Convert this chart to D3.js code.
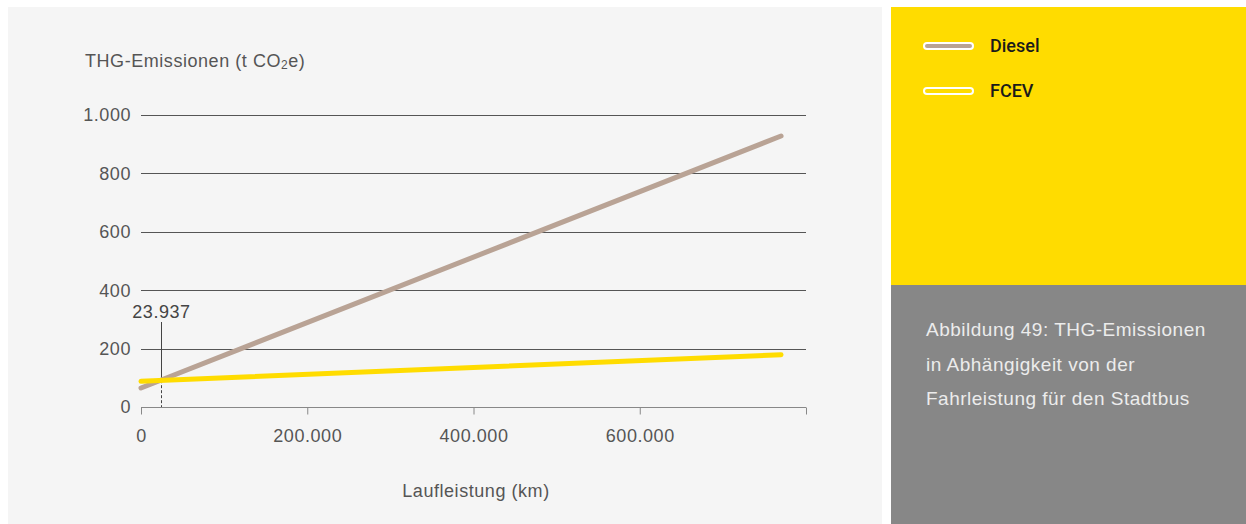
<!DOCTYPE html>
<html>
<head>
<meta charset="utf-8">
<script src="https://cdn.jsdelivr.net/npm/d3@7"></script>
<style>
  body { margin: 0; background: #fff; }
  svg { display: block; }
</style>
</head>
<body>
<div id="chart"></div>
<script>
// data
var seriesNames = ["Diesel", "FCEV"]
var seriesColors = ["#b9a395", "#ffdc00"]
var kmPoints = [0, 770000]
var dieselValues = [65, 928]
var fcevValues = [88, 179]
var yTicks = [0, 200, 400, 600, 800, 1000]
var xTicks = [0, 200000, 400000, 600000, 800000]
var breakEvenKm = 23937
var caption = ["Abbildung 49: THG-Emissionen", "in Abhängigkeit von der", "Fahrleistung für den Stadtbus"]

var svgWidth = 1246
var svgHeight = 524
var font = "'Liberation Sans', 'Helvetica Neue', Arial, sans-serif"
var fontSize = 18
var spacing = 0.55

// german number format (1.000)
var de = d3.formatLocale({decimal: ",", thousands: ".", grouping: [3], currency: ["", " €"]})
var fmt = de.format(",.0f")

var svg = d3.select("#chart")
.append("svg")
.attr("width", svgWidth)
.attr("height", svgHeight)

// background panels
svg.append("rect").attr("x", 8).attr("y", 7).attr("width", 874).attr("height", 517).attr("fill", "#f5f5f5")
svg.append("rect").attr("x", 891).attr("y", 7).attr("width", 355).attr("height", 278).attr("fill", "#ffdc00")
svg.append("rect").attr("x", 891).attr("y", 285).attr("width", 355).attr("height", 239).attr("fill", "#878787")

var x = d3.scaleLinear().domain([0, 800000]).range([141, 806])
var y = d3.scaleLinear().domain([0, 1000]).range([407, 115])

function styleText(sel) {
   return sel.attr("font-family", font)
   .attr("font-size", fontSize)
   .attr("letter-spacing", spacing)
   .attr("fill", "#555")
}

// gridlines + y labels
var grid = svg.append("g")
grid.selectAll("line")
.data(yTicks.filter(function(d){ return d > 0 }))
.enter()
.append("line")
.attr("x1", x(0))
.attr("x2", x(800000))
.attr("y1", function(d){ return Math.round(y(d)) + 0.5 })
.attr("y2", function(d){ return Math.round(y(d)) + 0.5 })
.attr("stroke", "#555")
.attr("stroke-width", 1)

grid.selectAll("text")
.data(yTicks)
.enter()
.append("text")
.attr("x", 131)
.attr("y", function(d){ return y(d) })
.attr("dy", "0.35em")
.attr("text-anchor", "end")
.call(styleText)
.text(function(d){ return fmt(d) })

// x axis
var xAxis = d3.axisBottom(x)
.tickValues(xTicks)
.tickSize(7)
.tickFormat(function(d){ return d === 800000 ? "" : fmt(d) })

var gx = svg.append("g")
.attr("transform", "translate(0," + (Math.round(y(0)) + 0.5) + ")")
.call(xAxis)
gx.select(".domain").attr("stroke", "#888").attr("d", "M" + x(0) + ",0H" + x(800000))
gx.selectAll(".tick line").attr("stroke", "#888")
gx.selectAll(".tick text")
.call(styleText)
.attr("y", 28)
.attr("dy", "0.35em")

// axis titles (CO2 with a small subscript)
var yTitle = svg.append("text")
.attr("x", 85)
.attr("y", 67)
.call(styleText)
yTitle.append("tspan").text("THG-Emissionen (t CO")
yTitle.append("tspan").attr("font-size", 12).attr("dy", 2).text("2")
yTitle.append("tspan").attr("dy", -2).text("e)")

svg.append("text")
.attr("x", 476)
.attr("y", 497)
.attr("text-anchor", "middle")
.call(styleText)
.text("Laufleistung (km)")

// series lines
var line = d3.line()
.x(function(d){ return x(d[0]) })
.y(function(d){ return y(d[1]) })

var series = [dieselValues, fcevValues].map(function(vals){
   return kmPoints.map(function(k, i){ return [k, vals[i]] })
})

// break-even marker
var dSlope = (dieselValues[1] - dieselValues[0]) / (kmPoints[1] - kmPoints[0])
var yBreak = y(dieselValues[0] + dSlope * breakEvenKm)
var bx = Math.round(x(breakEvenKm)) + 0.5
svg.append("line")
.attr("x1", bx).attr("x2", bx)
.attr("y1", 322).attr("y2", yBreak)
.attr("stroke", "#444").attr("stroke-width", 1)
svg.append("line")
.attr("x1", bx).attr("x2", bx)
.attr("y1", yBreak).attr("y2", y(0))
.attr("stroke", "#444").attr("stroke-width", 1)
.attr("stroke-dasharray", "3,2")
svg.append("text")
.attr("x", bx)
.attr("y", 318)
.attr("text-anchor", "middle")
.call(styleText)
.attr("fill", "#444")
.text(fmt(breakEvenKm))

svg.selectAll(".series")
.data(series)
.enter()
.append("path")
.attr("class", "series")
.attr("d", line)
.attr("fill", "none")
.attr("stroke", function(d, i){ return seriesColors[i] })
.attr("stroke-width", 5)
.attr("stroke-linecap", "round")

// legend
var legend = svg.selectAll(".legend")
.data(seriesNames)
.enter()
.append("g")
.attr("class", "legend")
.attr("transform", function(d, i){ return "translate(0," + (46 + i * 45) + ")" })

legend.append("line")
.attr("x1", 927).attr("x2", 970)
.attr("y1", 0).attr("y2", 0)
.attr("stroke", "#fff")
.attr("stroke-width", 8)
.attr("stroke-linecap", "round")
legend.append("line")
.attr("x1", 927).attr("x2", 970)
.attr("y1", 0).attr("y2", 0)
.attr("stroke", function(d, i){ return seriesColors[i] })
.attr("stroke-width", 4)
.attr("stroke-linecap", "round")
legend.append("text")
.attr("x", 990)
.attr("y", 0)
.attr("dy", "0.35em")
.attr("font-family", "Roboto, sans-serif")
.attr("font-weight", 500)
.attr("font-size", 18)
.attr("fill", "#1a1a1a")
.text(function(d){ return d })

// caption
svg.selectAll(".caption")
.data(caption)
.enter()
.append("text")
.attr("class", "caption")
.attr("x", 926)
.attr("y", function(d, i){ return 336 + i * 34.5 })
.attr("font-family", font)
.attr("font-size", 19)
.attr("letter-spacing", 0.5)
.attr("fill", "#ececec")
.text(function(d){ return d })
</script>
</body>
</html>
